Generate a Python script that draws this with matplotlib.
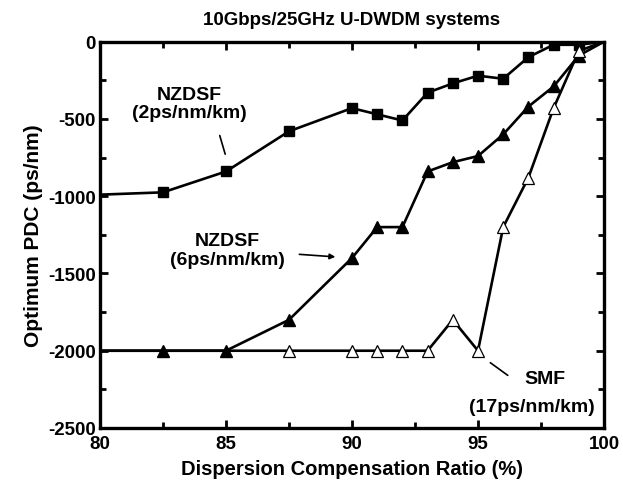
import matplotlib.pyplot as plt
from matplotlib.ticker import MultipleLocator

plt.rcParams['font.family'] = ['Liberation Sans', 'DejaVu Sans']
plt.rcParams['font.weight'] = 'bold'
plt.rcParams['axes.unicode_minus'] = False

# ---------------- DATA ---------------- #

ratio_nz2 = [80, 82.5, 85, 87.5, 90, 91, 92, 93, 94, 95, 96, 97, 98, 99, 100]
pdc_nz2 = [-990, -975, -840, -580, -430, -470, -510, -330, -270, -220, -240, -100, -20, -20, 0]

ratio_nz6 = [80, 82.5, 85, 87.5, 90, 91, 92, 93, 94, 95, 96, 97, 98, 99, 100]
pdc_nz6 = [-2000, -2000, -2000, -1800, -1400, -1200, -1200, -840, -780, -740, -600, -420, -290, -90, 0]

ratio_smf = [80, 87.5, 90, 91, 92, 93, 94, 95, 96, 97, 98, 99, 100]
pdc_smf = [-2000, -2000, -2000, -2000, -2000, -2000, -1800, -2000, -1200, -880, -430, -60, 0]

# ---------------- PLOT ---------------- #

fig = plt.figure(figsize=(6.23, 4.85), dpi=100)
ax = fig.add_axes([0.1605, 0.1155, 0.809, 0.7965])

ax.plot(ratio_nz2, pdc_nz2, color='black', lw=1.9, marker='s', ms=7.5,
        markevery=list(range(1, len(ratio_nz2) - 1)))
ax.plot(ratio_nz6, pdc_nz6, color='black', lw=1.9, marker='^', ms=9,
        markevery=list(range(1, len(ratio_nz6) - 1)))
ax.plot(ratio_smf, pdc_smf, color='black', lw=1.9, marker='^', ms=9,
        mfc='white', mec='black', mew=0.9,
        markevery=list(range(1, len(ratio_smf) - 1)))

ax.set_xlim(80, 100)
ax.set_ylim(-2500, 0)
ax.xaxis.set_major_locator(MultipleLocator(5))
ax.xaxis.set_minor_locator(MultipleLocator(2.5))
ax.yaxis.set_major_locator(MultipleLocator(500))
ax.yaxis.set_minor_locator(MultipleLocator(250))

ax.tick_params(which='both', direction='in', top=True, right=True,
               labelsize=13.5, width=2)
ax.tick_params(which='major', length=6)
ax.tick_params(which='minor', length=4)
ax.tick_params(axis='x', pad=5)
ax.tick_params(axis='y', pad=3)
for s in ax.spines.values():
    s.set_linewidth(2.4)

ax.set_xlabel('Dispersion Compensation Ratio (%)', fontsize=14.5, fontweight='bold', labelpad=5)
ax.set_ylabel('Optimum PDC (ps/nm)', fontsize=15, fontweight='bold', labelpad=4)
ax.set_title('10Gbps/25GHz U-DWDM systems', fontsize=13.5, fontweight='bold', pad=13)

# ---- labels ---- #
ax.text(83.55, -400, 'NZDSF\n(2ps/nm/km)', ha='center', va='center', fontsize=14,
        fontweight='bold', linespacing=1.15)
ax.annotate('', xy=(85.0, -745), xytext=(84.72, -590),
            arrowprops=dict(arrowstyle='-', lw=1.2, color='black'))

ax.text(85.05, -1350, 'NZDSF\n(6ps/nm/km)', ha='center', va='center', fontsize=14,
        fontweight='bold', linespacing=1.15)
ax.annotate('', xy=(89.45, -1394), xytext=(87.8, -1375),
            arrowprops=dict(arrowstyle='-|>', lw=1.2, color='black', mutation_scale=8))

ax.text(97.66, -2183, 'SMF', ha='center', va='center', fontsize=14, fontweight='bold')
ax.text(97.13, -2358, '(17ps/nm/km)', ha='center', va='center', fontsize=14, fontweight='bold')
ax.annotate('', xy=(95.4, -2067), xytext=(96.27, -2170),
            arrowprops=dict(arrowstyle='-', lw=1.2, color='black'))

fig.savefig('out.png', dpi=100)
